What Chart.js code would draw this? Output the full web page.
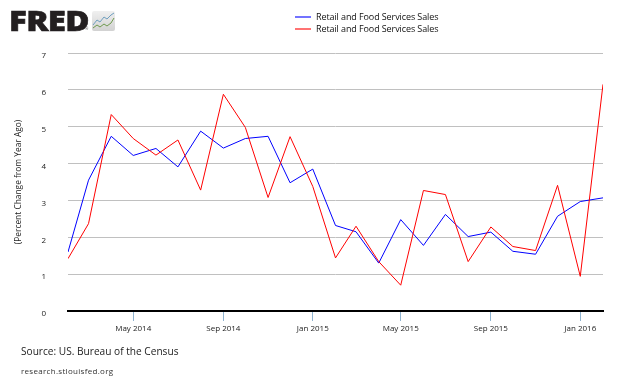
<!DOCTYPE html>
<html>
<head>
<meta charset="utf-8">
<script src="https://cdn.jsdelivr.net/npm/chart.js@4/dist/chart.umd.min.js"></script>
<style>
  html, body { margin: 0; padding: 0; background: #fff; }
  #wrap { position: relative; width: 630px; height: 378px; overflow: hidden; font-family: "Open Sans", sans-serif; color: #222; }
  #chart { position: absolute; left: 0; top: 0; }
  .abs { position: absolute; white-space: nowrap; }
  #fred { left: 9px; top: 3px; font: 900 29px/34px "Open Sans", sans-serif; letter-spacing: -0.6px; color: #231f20; -webkit-text-stroke: 0.6px #231f20; transform: scaleX(1.14); transform-origin: left top; }
  #reg { left: 85px; top: 26px; font-size: 4px; line-height: 5px; color: #555; }
  #logo-icon { left: 92px; top: 11px; }
  .legend-row { left: 295px; font-size: 9px; line-height: 12px; letter-spacing: -0.1px; color: #111; padding-left: 21px; }
  .legend-row i { position: absolute; left: 0; top: 5px; width: 16px; height: 2px; opacity: 0.55; }
  #source { left: 21px; top: 342px; font-size: 10.15px; line-height: 18px; color: #222; }
  #site { left: 21px; top: 364px; font-size: 8px; line-height: 13px; letter-spacing: 0.3px; color: #333; }
</style>
</head>
<body>
<div id="wrap">
  <canvas id="chart" width="630" height="378"></canvas>
  <div id="fred" class="abs">FRED</div>
  <div id="reg" class="abs">®</div>
  <svg id="logo-icon" class="abs" width="23" height="20" viewBox="0 0 23 20">
    <defs>
      <linearGradient id="iconFill" x1="0" y1="0" x2="0" y2="1">
        <stop offset="0" stop-color="#f0f0f0"/>
        <stop offset="1" stop-color="#d2d2d2"/>
      </linearGradient>
    </defs>
    <rect width="23" height="20" rx="2" fill="url(#iconFill)"/>
    <polyline points="1,14 5,9 8,11 12,6 15,8 19,4 22,2" fill="none" stroke="#6f9fbf" stroke-width="1"/>
    <polyline points="1,17 5,14 8,16 12,13 15,15 19,12 22,7" fill="none" stroke="#6f9a4f" stroke-width="1"/>
  </svg>
  <div id="legend"></div>
  <div id="source" class="abs">Source: US. Bureau of the Census</div>
  <div id="site" class="abs">research.stlouisfed.org</div>
</div>
<script>
const months = [
  "2014-02-01", "2014-03-01", "2014-04-01", "2014-05-01", "2014-06-01", "2014-07-01", "2014-08-01",
  "2014-09-01", "2014-10-01", "2014-11-01", "2014-12-01", "2015-01-01", "2015-02-01", "2015-03-01",
  "2015-04-01", "2015-05-01", "2015-06-01", "2015-07-01", "2015-08-01", "2015-09-01", "2015-10-01",
  "2015-11-01", "2015-12-01", "2016-01-01", "2016-02-01"
];
const blueValues = [
  1.60, 3.55, 4.74, 4.22, 4.41, 3.91, 4.88, 4.42, 4.68, 4.74, 3.48, 3.85, 2.32,
  2.15, 1.30, 2.48, 1.78, 2.62, 2.02, 2.14, 1.62, 1.54, 2.57, 2.97, 3.07
];
const redValues = [
  1.42, 2.37, 5.33, 4.68, 4.23, 4.64, 3.28, 5.88, 4.98, 3.08, 4.73, 3.38, 1.44,
  2.30, 1.34, 0.70, 3.27, 3.16, 1.34, 2.28, 1.75, 1.64, 3.41, 0.94, 6.15
];
const tickDates = ["2014-05-01", "2014-09-01", "2015-01-01", "2015-05-01", "2015-09-01", "2016-01-01"];
const tickLabels = ["May 2014", "Sep 2014", "Jan 2015", "May 2015", "Sep 2015", "Jan 2016"];
const seriesName = "Retail and Food Services Sales";
const yMax = 7;
const yLabel = "(Percent Change from Year Ago)";

function toPoints(values) {
  return values.map((v, i) => ({ x: Date.parse(months[i]), y: v }));
}

const tickFont = { family: "'Open Sans', sans-serif", size: 8 };

// legend sits in html, chart.js cant stack it in the middle of the top margin
const legend = document.getElementById("legend");
["#0000ff", "#ff0000"].forEach((color, i) => {
  const row = document.createElement("div");
  row.className = "abs legend-row";
  row.style.top = (11 + i * 12) + "px";
  row.innerHTML = `<i style="background:${color}"></i>${seriesName}`;
  legend.appendChild(row);
});

new Chart(document.getElementById("chart"), {
  type: "line",
  data: {
    datasets: [
      { label: seriesName, data: toPoints(blueValues), borderColor: "#0000ff", borderWidth: 1, pointRadius: 0, tension: 0, order: 2 },
      { label: seriesName, data: toPoints(redValues), borderColor: "#ff0000", borderWidth: 1, pointRadius: 0, tension: 0, order: 1 }
    ]
  },
  options: {
    responsive: false,
    animation: false,
    layout: { padding: { left: 0, right: 27, top: 53, bottom: 0 } },
    plugins: { legend: { display: false }, tooltip: { enabled: false } },
    scales: {
      x: {
        type: "linear",
        min: Date.parse(months[0]),
        max: Date.parse(months[months.length - 1]),
        afterBuildTicks: (scale) => {
          scale.ticks = tickDates.map((d) => ({ value: Date.parse(d) }));
        },
        afterFit: (scale) => { scale.height = 67; },
        grid: { drawOnChartArea: false, color: "#8fb3d0", tickColor: "#8fb3d0", tickWidth: 1, tickLength: 10 },
        border: { color: "#000", width: 2 },
        ticks: {
          autoSkip: false,
          maxRotation: 0,
          padding: 3,
          color: "#222",
          font: tickFont,
          callback: (value) => tickLabels[tickDates.findIndex((d) => Date.parse(d) === value)]
        }
      },
      y: {
        min: 0,
        max: yMax,
        afterFit: (scale) => { scale.width = 68; },
        grid: { color: "#c0c0c0", lineWidth: 1, drawTicks: false },
        border: { display: false },
        ticks: { stepSize: 1, padding: 22, labelOffset: 3, color: "#222", font: tickFont },
        title: {
          display: true,
          text: yLabel,
          color: "#222",
          font: { family: "'Open Sans', sans-serif", size: 8.4 },
          padding: { top: 14, bottom: 0 }
        }
      }
    }
  }
});
</script>
</body>
</html>
